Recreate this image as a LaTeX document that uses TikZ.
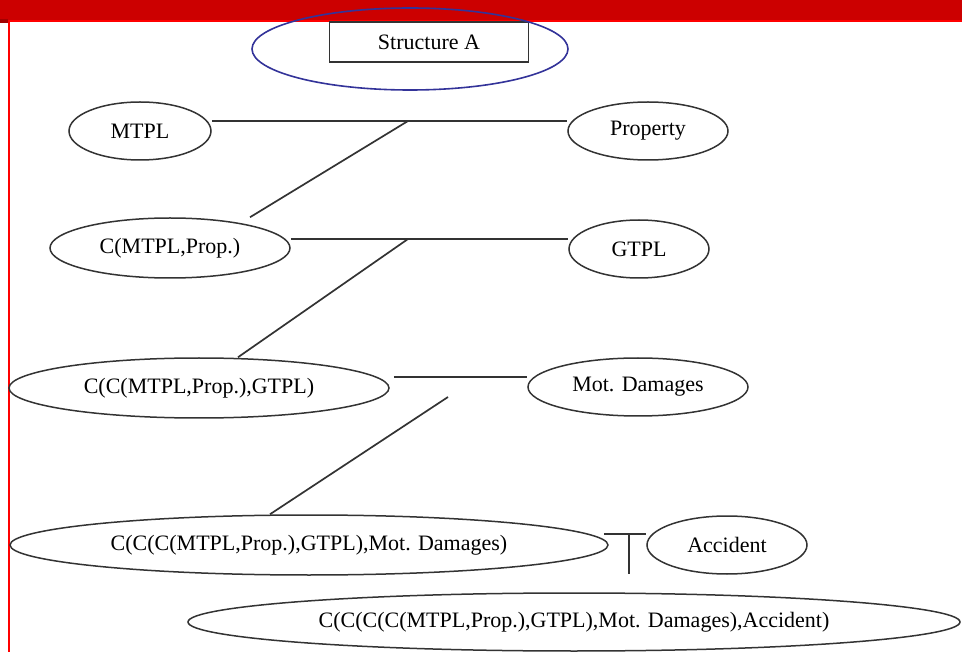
\documentclass[tikz,border=0pt]{standalone}
\usepackage{fontspec}
\setmainfont{Liberation Serif}
\usetikzlibrary{shapes.geometric}
\definecolor{rojoBar}{HTML}{CC0000}
\definecolor{rojoLin}{HTML}{FF0000}
\definecolor{azulOv}{HTML}{333399}
\definecolor{grisL}{HTML}{333333}

\begin{document}
\begin{tikzpicture}[x=1pt,y=-1pt,
    oval/.style={ellipse,draw=grisL,line width=1.5pt,inner sep=0pt,font=\fontsize{22}{26}\selectfont},
    titlebox/.style={draw=grisL,line width=1.6pt,inner sep=0pt,font=\fontsize{22}{26}\selectfont},
    link/.style={grisL,line width=1.7pt}]
          \useasboundingbox (0,0) rectangle (962,652);
          \fill[rojoBar] (0,0) rectangle (962,20);
          \fill[rojoBar!80!black] (0,19) rectangle (8,23);
          \draw[rojoLin,line width=2.5pt] (9,652) -- (9,21) -- (962,21);
          \node[titlebox,minimum width=199pt,minimum height=40pt] (titulo) at (429,42) {Structure A};
          \draw[azulOv,line width=1.6pt] (410,49) ellipse [x radius=158pt,y radius=41pt];
          \node[oval,minimum width=142pt,minimum height=58pt] (mtpl) at (140,131) {MTPL};
          \node[oval,minimum width=160pt,minimum height=58pt] (prop) at (648,131) {Property};
          \node[oval,minimum width=240pt,minimum height=60pt] (cmp) at (170,248) {C(MTPL,Prop.)};
          \node[oval,minimum width=140pt,minimum height=58pt] (gtpl) at (639,249) {GTPL};
          \node[oval,minimum width=380pt,minimum height=60pt] (ccg) at (199,388) {C(C(MTPL,Prop.),GTPL)};
          \node[oval,minimum width=220pt,minimum height=58pt] (md) at (638,387) {Mot. Damages};
          \node[oval,minimum width=598pt,minimum height=60pt] (ccm) at (309,545) {C(C(C(MTPL,Prop.),GTPL),Mot. Damages)};
          \node[oval,minimum width=160pt,minimum height=58pt] (acc) at (727,545) {Accident};
          \node[oval,minimum width=772pt,minimum height=58pt] (ccma) at (574,622) {C(C(C(C(MTPL,Prop.),GTPL),Mot. Damages),Accident)};
          \coordinate (j1) at (408,121);
          \coordinate (j2) at (408,239);
          \coordinate (f3) at (448,397);
          \coordinate (j4) at (629,534);
          \coordinate (f4) at (629,574);
          \draw[link] ([yshift=10pt]mtpl.east) -- ([yshift=10pt]prop.west);
          \draw[link] (j1) -- ([xshift=80pt]cmp.north);
          \draw[link] ([yshift=9pt]cmp.east) -- ([yshift=10pt]gtpl.west);
          \draw[link] (j2) -- ([xshift=39pt]ccg.north);
          \draw[link] ([xshift=4pt,yshift=11pt]ccg.east) -- ([yshift=10pt]md.west);
          \draw[link] (f3) -- ([xshift=-39pt]ccm.north);
          \draw[link] ([xshift=-5pt,yshift=11pt]ccm.east) -- ([yshift=11pt]acc.west);
          \draw[link] (j4) -- (f4);
        \end{tikzpicture}
\end{document}
